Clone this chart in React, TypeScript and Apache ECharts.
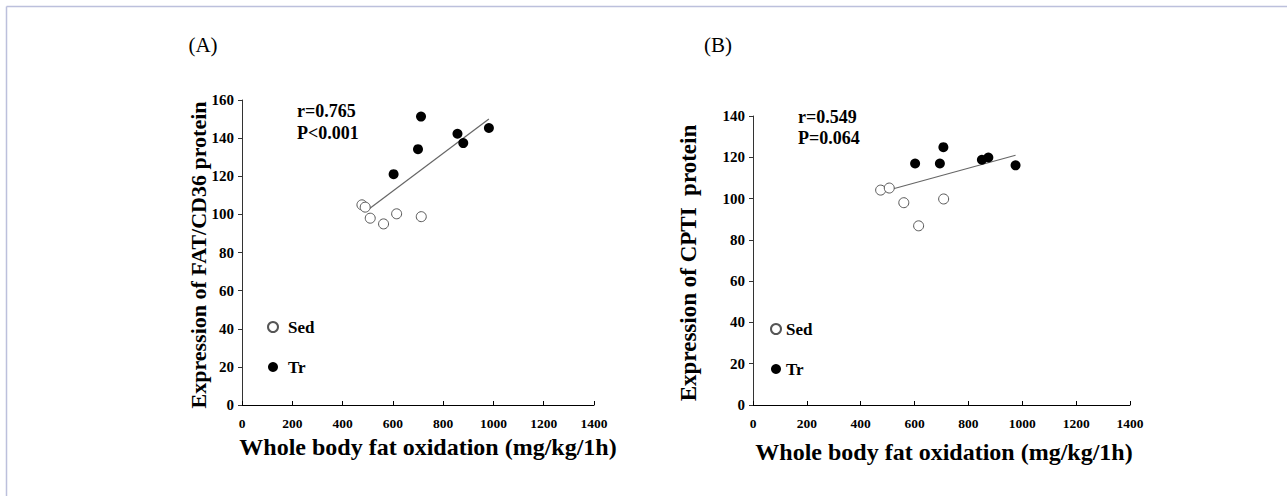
import React, { useEffect, useRef } from "react";
import * as echarts from "echarts";

// Panel A: FAT/CD36
const sedA: [number, number][] = [
  [477, 105], [490, 103.8], [510, 98], [563, 95], [615, 100.3], [713, 98.8],
];
const trA: [number, number][] = [
  [603, 121.1], [700, 134.2], [712, 151.3], [857, 142.3], [880, 137.4], [982, 145.3],
];
const fitA: [number, number][] = [[497, 102], [982, 150]];

// Panel B: CPTI
const sedB: [number, number][] = [
  [474, 104.1], [506, 105.1], [560, 98], [615, 86.8], [708, 99.8],
];
const trB: [number, number][] = [
  [602, 117], [694, 117], [707, 124.9], [850, 118.8], [874, 119.9], [975, 116.1],
];
const fitB: [number, number][] = [[481, 103.3], [975, 121]];

const xTicks = { min: 0, max: 1400, interval: 200 };
const yTicksA = { min: 0, max: 160, interval: 20 };
const yTicksB = { min: 0, max: 140, interval: 20 };

const statsA = ["r=0.765", "P<0.001"];
const statsB = ["r=0.549", "P=0.064"];
const panelLabels = ["(A)", "(B)"];
const xName = "Whole body fat oxidation (mg/kg/1h)";
const yNameA = "Expression of FAT/CD36 protein";
const yNameB = "Expression of CPTI  protein";

const SERIF = "Liberation Serif";

export default function App() {
  const ref = useRef<HTMLDivElement>(null);
  useEffect(() => {
    if (!ref.current) return;
    const chart = echarts.init(ref.current, null, { renderer: "svg" });

    const xAxisBase = (gridIndex: number) => ({
      type: "value",
      gridIndex,
      ...xTicks,
      axisLine: { lineStyle: { color: "#000", width: 1 } },
      axisTick: { inside: true, length: 4, lineStyle: { color: "#000" } },
      axisLabel: {
        color: "#000", fontFamily: SERIF, fontWeight: "bold", fontSize: 13.5, margin: 11,
        formatter: (v: number) => String(v),
      },
      splitLine: { show: false },
    });
    const yAxisBase = (gridIndex: number, t: any) => ({
      type: "value",
      gridIndex,
      ...t,
      axisLine: { show: true, lineStyle: { color: "#333", width: 1 } },
      axisTick: { show: true, inside: false, length: 4, lineStyle: { color: "#333" } },
      axisLabel: {
        color: "#000", fontFamily: SERIF, fontWeight: "bold", fontSize: 15, margin: 8,
        formatter: (v: number) => String(v),
      },
      splitLine: { show: false },
    });

    const sedStyle = { color: "#fff", borderColor: "#555", borderWidth: 1, opacity: 1 };
    const trStyle = { color: "#000", opacity: 1 };
    const lineStyle = { color: "#666", width: 1.2 };

    const legendBase = (left: number, top: number, gap: number) => ({
      left,
      top,
      orient: "vertical",
      itemWidth: 10,
      itemHeight: 10,
      itemGap: 22,
      icon: "circle",
      data: ["Sed", "Tr"],
      selectedMode: false,
      textStyle: { fontFamily: SERIF, fontWeight: "bold", fontSize: 17, color: "#000", lineHeight: 18, padding: [0, 0, 0, gap] },
    });

    const statText = (x: number, y: number, s: string) => ({
      type: "text",
      x,
      y,
      style: { text: s, font: `bold 18px ${SERIF}`, fill: "#000", textVerticalAlign: "middle" },
    });

    chart.setOption({
      animation: false,
      backgroundColor: "#fff",
      grid: [
        { left: 242, top: 100, width: 352, height: 305 },
        { left: 753, top: 116, width: 377, height: 289 },
      ],
      xAxis: [xAxisBase(0), xAxisBase(1)],
      yAxis: [yAxisBase(0, yTicksA), yAxisBase(1, yTicksB)],
      legend: [legendBase(262, 313, 5), legendBase(765, 315, 0)],
      series: [
        { name: "Sed", type: "scatter", xAxisIndex: 0, yAxisIndex: 0, data: sedA, symbolSize: 10, itemStyle: sedStyle },
        { name: "Tr", type: "scatter", xAxisIndex: 0, yAxisIndex: 0, data: trA, symbolSize: 10, itemStyle: trStyle },
        { name: "fitA", type: "line", xAxisIndex: 0, yAxisIndex: 0, data: fitA, symbol: "none", lineStyle, z: 1 },
        { name: "Sed", type: "scatter", xAxisIndex: 1, yAxisIndex: 1, data: sedB, symbolSize: 10, itemStyle: sedStyle },
        { name: "Tr", type: "scatter", xAxisIndex: 1, yAxisIndex: 1, data: trB, symbolSize: 10, itemStyle: trStyle },
        { name: "fitB", type: "line", xAxisIndex: 1, yAxisIndex: 1, data: fitB, symbol: "none", lineStyle, z: 1 },
      ],
      graphic: [
        { type: "line", shape: { x1: 6.5, y1: 6.5, x2: 1287, y2: 6.5 }, style: { stroke: "#bcc0dc", lineWidth: 1.5 } },
        { type: "line", shape: { x1: 6.5, y1: 6.5, x2: 6.5, y2: 496 }, style: { stroke: "#bcc0dc", lineWidth: 1.5 } },
        { type: "text", x: 203, y: 45, style: { text: panelLabels[0], font: `21px ${SERIF}`, fill: "#000", textAlign: "center", textVerticalAlign: "middle" } },
        { type: "text", x: 718, y: 45, style: { text: panelLabels[1], font: `21px ${SERIF}`, fill: "#000", textAlign: "center", textVerticalAlign: "middle" } },
        statText(297, 111, statsA[0]),
        statText(297, 133, statsA[1]),
        statText(798, 117, statsB[0]),
        statText(798, 138, statsB[1]),
        { type: "text", x: 428, y: 447, style: { text: xName, font: `bold 24px ${SERIF}`, fill: "#000", textAlign: "center", textVerticalAlign: "middle" } },
        { type: "text", x: 944, y: 452, style: { text: xName, font: `bold 24px ${SERIF}`, fill: "#000", textAlign: "center", textVerticalAlign: "middle" } },
        { type: "text", x: 198, y: 255, rotation: Math.PI / 2, style: { text: yNameA, font: `bold 22px ${SERIF}`, fill: "#000", textAlign: "center", textVerticalAlign: "middle" } },
        { type: "text", x: 688, y: 263, rotation: Math.PI / 2, style: { text: yNameB, font: `bold 23px ${SERIF}`, fill: "#000", textAlign: "center", textVerticalAlign: "middle" } },
      ],
    });
    return () => chart.dispose();
  }, []);
  return (
    <div
      ref={ref}
      style={{ position: "absolute", left: 0, top: 0, width: 1287, height: 496 }}
    />
  );
}
